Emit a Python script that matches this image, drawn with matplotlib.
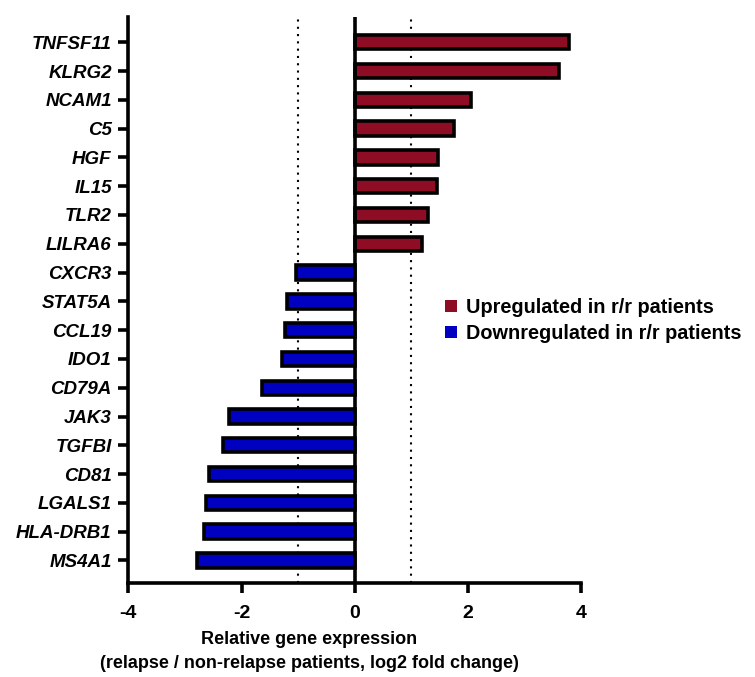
import numpy as np
import matplotlib
matplotlib.use("Agg")
import matplotlib.pyplot as plt
from matplotlib.patches import Patch

plt.rcParams['font.family'] = ['Liberation Sans', 'DejaVu Sans']
plt.rcParams['font.weight'] = 'bold'

genes = ['TNFSF11', 'KLRG2', 'NCAM1', 'C5', 'HGF', 'IL15', 'TLR2', 'LILRA6',
         'CXCR3', 'STAT5A', 'CCL19', 'IDO1', 'CD79A', 'JAK3', 'TGFBI', 'CD81',
         'LGALS1', 'HLA-DRB1', 'MS4A1']
log2fc = [3.78, 3.60, 2.05, 1.75, 1.46, 1.45, 1.30, 1.18,
          -1.04, -1.20, -1.24, -1.29, -1.64, -2.22, -2.32, -2.58,
          -2.62, -2.67, -2.78]

up_color = '#8E0C24'
down_color = '#0000C0'

fig = plt.figure(figsize=(7.55, 6.77), dpi=100)
ax = fig.add_axes([0.170, 0.139, 0.600, 0.836])

y = np.arange(len(genes))
colors = [up_color if v > 0 else down_color for v in log2fc]
ax.barh(y, log2fc, height=0.5, color=colors, edgecolor='black', linewidth=2.6, zorder=3)

ax.axvline(0, color='black', linewidth=2.6, zorder=4)
ax.axvline(-1, color='black', linestyle=(0, (1, 2.5)), linewidth=1.5, zorder=2)
ax.axvline(1, color='black', linestyle=(0, (1, 2.5)), linewidth=1.5, zorder=2)

ax.set_xlim(-4, 4)
ax.set_ylim(len(genes) - 1 + 0.78, -0.88)
ax.set_xticks([-4, -2, 0, 2, 4])
ax.set_xticklabels(['-4', '-2', '0', '2', '4'], fontsize=14, fontweight='bold')
ax.set_yticks(y)
ax.set_yticklabels(genes, fontsize=13.5, fontweight='bold', fontstyle='italic')

for s in ['top', 'right']:
  ax.spines[s].set_visible(False)
for s in ['left', 'bottom']:
  ax.spines[s].set_linewidth(2.6)
ax.tick_params(axis='both', width=2.6, length=7)
ax.tick_params(axis='x', pad=9)
ax.tick_params(axis='y', pad=5)

ax.set_xlabel('Relative gene expression\n(relapse / non-relapse patients, log2 fold change)',
              fontsize=13, fontweight='bold', labelpad=10, linespacing=1.5)
ax.xaxis.set_label_coords(0.40, -0.085, transform=ax.transAxes)
ax.xaxis.label.set_verticalalignment('top')

handles = [Patch(facecolor=up_color, edgecolor='none', label='Upregulated in r/r patients'),
           Patch(facecolor=down_color, edgecolor='none', label='Downregulated in r/r patients')]
fig.legend(handles=handles, loc='upper left', bbox_to_anchor=(0.590, 0.560), frameon=False,
           handlelength=0.6, handleheight=0.6, handletextpad=0.45, labelspacing=0.35,
           borderaxespad=0, borderpad=0, prop={'weight': 'bold', 'size': 14.3})

fig.savefig('out.png', dpi=100)
